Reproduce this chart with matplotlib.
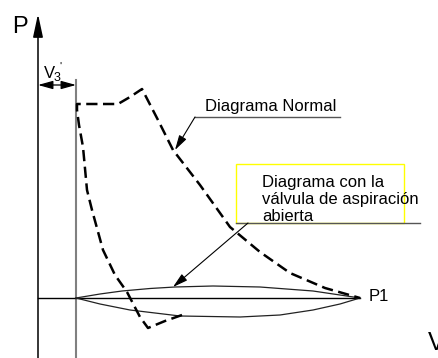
import matplotlib.pyplot as plt
from matplotlib.patches import Rectangle

plt.rcParams['font.family'] = ['Liberation Sans', 'DejaVu Sans']

# diagram points, in picture units (x right, y down)
normal_x = [182, 165, 148, 140, 127, 115, 103, 92, 87, 83, 79, 77, 77,
            118, 130, 142, 158, 173, 200, 230, 260, 290, 325, 360]
normal_y = [315, 321, 328, 317, 292, 275, 250, 210, 190, 147, 125, 110, 104,
            104, 97, 89, 120, 150, 185, 227, 252, 273, 288, 298]

upper_x = [76, 100, 122, 150, 175, 213, 260, 313, 340, 360]
upper_y = [298, 294, 291, 288.5, 287, 286, 287, 291, 295, 298]
lower_x = [76, 100, 130, 155, 180, 240, 280, 313, 340, 360]
lower_y = [298, 304, 310, 313, 316, 317, 315, 310, 304, 298]

fig = plt.figure(figsize=(4.39, 3.58), dpi=100)
ax = fig.add_axes([0, 0, 1, 1])
ax.set_xlim(0, 439)
ax.set_ylim(358, 0)
ax.axis('off')

# axes of the diagram
ax.plot([38, 38], [358, 25], color='black', lw=1.1)
ax.annotate('', xy=(38, 14), xytext=(38, 32),
            arrowprops=dict(arrowstyle='-|>,head_length=1.4,head_width=0.3',
                            color='black', lw=1.1, shrinkA=0, shrinkB=0))
ax.plot([76, 76], [80, 358], color='#808080', lw=1.5)
ax.plot([38, 360], [298, 298], color='black', lw=1.0)

ax.text(12, 33, 'P', fontsize=17)
ax.text(44, 78, 'V', fontsize=12)
ax.text(54, 81, '3', fontsize=9)
ax.text(59, 70, "'", fontsize=8)
ax.annotate('', xy=(38, 85), xytext=(76, 85),
            arrowprops=dict(arrowstyle='<|-|>,head_length=0.9,head_width=0.25',
                            color='black', lw=0.9, shrinkA=0, shrinkB=0))

# curves
ax.plot(upper_x, upper_y, color='#222222', lw=0.9)
ax.plot(lower_x, lower_y, color='#222222', lw=0.9)
ax.plot(normal_x, normal_y, color='black', lw=1.8, dashes=(4.5, 2.2))

# labels
ax.text(205, 111, 'Diagrama Normal', fontsize=12)
ax.plot([195, 340], [117, 117], color='#555555', lw=1.0)
ax.annotate('', xy=(175, 150), xytext=(195, 117),
            arrowprops=dict(arrowstyle='-|>,head_length=0.9,head_width=0.25',
                            color='black', lw=0.8, shrinkA=0, shrinkB=0))

ax.add_patch(Rectangle((236, 164), 168, 59, fill=False, edgecolor='#ffff00', lw=1.0))
ax.plot([236, 420], [223, 223], color='#555555', lw=1.0)
ax.text(262, 221, 'Diagrama con la\nválvula de aspiración\nabierta', fontsize=12,
        linespacing=1.15)
ax.annotate('', xy=(173, 287), xytext=(248, 223),
            arrowprops=dict(arrowstyle='-|>,head_length=0.9,head_width=0.25',
                            color='black', lw=0.8, shrinkA=0, shrinkB=0))

ax.text(369, 301, 'P1', fontsize=12)
ax.text(428, 350, 'V', fontsize=18)

fig.savefig('out.png', dpi=100)
